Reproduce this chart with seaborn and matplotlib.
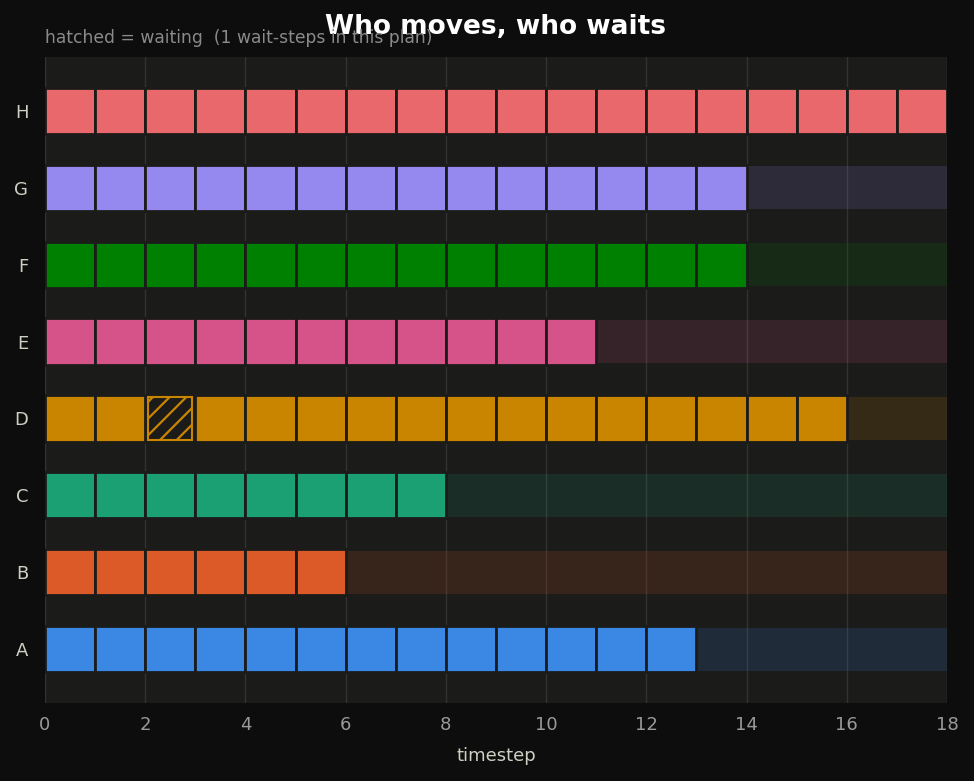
import matplotlib
matplotlib.use("Agg")
import matplotlib.pyplot as plt
import seaborn as sns
import pandas as pd

# agents, bottom to top
agents = ["A", "B", "C", "D", "E", "F", "G", "H"]
path_len = [13, 6, 8, 16, 11, 14, 14, 18]
colors = ["#3a88e4", "#db5a27", "#1aa073", "#c98500",
          "#d6538a", "#008000", "#9588ee", "#e8686b"]
# (agent, timestep) pairs where the agent waits
waits = [("D", 2)]
horizon = 18

BG = "#0d0d0d"
PANEL = "#1b1b1a"

sns.set_theme(style="dark", rc={
    "figure.facecolor": BG,
    "axes.facecolor": PANEL,
    "axes.edgecolor": PANEL,
    "grid.color": "#333333",
    "xtick.color": "#8a8a8a",
    "ytick.color": "#8a8a8a",
    "axes.labelcolor": "#cfcfc4",
})
plt.rcParams["font.family"] = ["DejaVu Sans"]
plt.rcParams["hatch.linewidth"] = 1.6

# one row per cell
rows = []
for a, n in zip(agents, path_len):
    for t in range(n):
        rows.append({"agent": a, "t": t, "wait": (a, t) in waits})
cells = pd.DataFrame(rows)
cmap = dict(zip(agents, colors))

fig = plt.figure(figsize=(9.74, 7.81), dpi=100)
ax = fig.add_axes([0.0462, 0.0999, 0.9261, 0.8271])
ax.set_axisbelow(True)
ax.grid(axis="x", color="#333333", lw=1)
ax.grid(axis="y", visible=False)

ypos = {a: i for i, a in enumerate(agents)}
H = 0.6

# idle tail after each agent arrives
for a, n in zip(agents, path_len):
    if n < horizon:
        ax.barh(ypos[a], horizon - n, left=n, height=H - 0.04, color=cmap[a],
                alpha=0.15, lw=0)

for _, r in cells.iterrows():
    c = cmap[r.agent]
    if r.wait:
        ax.barh(ypos[r.agent], 0.88, left=r.t + 0.06, height=H - 0.04,
                facecolor="none", edgecolor=c, hatch="//", lw=1.5)
    else:
        ax.barh(ypos[r.agent], 1, left=r.t, height=H, color=c,
                edgecolor=PANEL, lw=2)

ax.set_xlim(0, horizon)
ax.set_ylim(-0.7, len(agents) - 0.3)
ax.set_xticks(range(0, horizon + 1, 2))
ax.set_yticks(range(len(agents)))
ax.set_yticklabels(agents)
ax.tick_params(axis="x", labelsize=13, length=6, width=1.2, colors="#8a8a8a",
               labelcolor="#9a9a9a")
ax.tick_params(axis="y", labelsize=13, length=6, width=1.2, pad=6,
               colors="#8a8a8a", labelcolor="#cfcfc4")
ax.set_xlabel("timestep", fontsize=13, labelpad=9)
for s in ax.spines.values():
    s.set_visible(False)

fig.text(0.509, 0.966, "Who moves, who waits", ha="center", va="center",
         fontsize=19, fontweight="bold", color="white")
fig.text(0.0462, 0.951, "hatched = waiting  (1 wait-steps in this plan)",
         ha="left", va="center", fontsize=12.3, color="#8a8a8a")

fig.savefig("out.png", dpi=100, facecolor=BG)
